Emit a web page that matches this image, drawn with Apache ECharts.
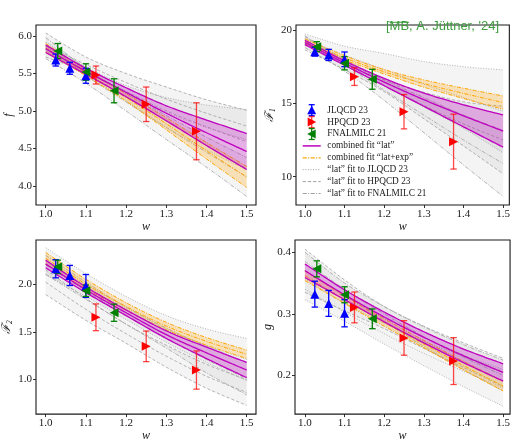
<!DOCTYPE html>
<html><head><meta charset="utf-8">
<script src="https://cdn.jsdelivr.net/npm/echarts@6/dist/echarts.min.js"></script>
<style>html,body{margin:0;padding:0;background:#fff}#c{width:513px;height:443px}</style>
</head><body><div id="c"></div>
<script>
// ---------- data ----------
const wGrid = [1.0, 1.1, 1.2, 1.3, 1.4, 1.5];
const wJLQCD = [1.025, 1.06, 1.10];
const wHPQCD = [1.125, 1.25, 1.375];
const wFNAL = [1.03, 1.10, 1.17];

// f
const f_JLQCD = [5.68, 5.57, 5.47], f_JLQCD_err = [0.08, 0.08, 0.10];
const f_HPQCD = [5.48, 5.09, 4.73], f_HPQCD_err = [0.12, 0.23, 0.38];
const f_FNAL = [5.80, 5.52, 5.27], f_FNAL_err = [0.10, 0.11, 0.16];
const f_lat_c = [5.83, 5.53, 5.25, 4.97, 4.71, 4.46], f_lat_h = [0.05, 0.04, 0.06, 0.10, 0.17, 0.24];
const f_latexp_c = [5.84, 5.51, 5.18, 4.83, 4.47, 4.12], f_latexp_h = [0.06, 0.04, 0.05, 0.08, 0.11, 0.14];
const f_fitJL_c = [5.86, 5.54, 5.24, 4.98, 4.78, 4.62], f_fitJL_h = [0.06, 0.05, 0.10, 0.20, 0.30, 0.40];
const f_fitHP_c = [5.88, 5.62, 5.38, 5.16, 4.97, 4.80], f_fitHP_h = [0.16, 0.10, 0.12, 0.16, 0.18, 0.21];
const f_fitFN_c = [5.84, 5.47, 5.12, 4.78, 4.45, 4.12], f_fitFN_h = [0.14, 0.10, 0.12, 0.16, 0.20, 0.26];

// F1
const F1_JLQCD = [18.52, 18.30, 18.0], F1_JLQCD_err = [0.3, 0.38, 0.5];
const F1_HPQCD = [16.82, 14.43, 12.39], F1_HPQCD_err = [0.6, 1.17, 1.87];
const F1_FNAL = [18.86, 17.73, 16.64], F1_FNAL_err = [0.34, 0.45, 0.68];
const F1_lat_c = [19.15, 17.75, 16.45, 15.25, 14.15, 13.11], F1_lat_h = [0.15, 0.15, 0.25, 0.45, 0.75, 1.10];
const F1_latexp_c = [19.2, 18.1, 17.15, 16.35, 15.68, 15.05], F1_latexp_h = [0.2, 0.15, 0.15, 0.25, 0.35, 0.45];
const F1_fitJL_c = [19.38, 18.3, 17.3, 16.3, 15.4, 14.45], F1_fitJL_h = [0.35, 0.6, 1.1, 1.55, 2.1, 2.83];
const F1_fitHP_c = [19.1, 17.6, 16.2, 14.85, 13.6, 12.5], F1_fitHP_h = [0.45, 0.3, 0.4, 0.9, 1.5, 2.3];
const F1_fitFN_c = [19.2, 17.6, 15.9, 14.2, 12.5, 10.9], F1_fitFN_h = [0.4, 0.4, 0.7, 1.2, 1.7, 2.25];

// F2
const F2_JLQCD = [2.16, 2.09, 1.98], F2_JLQCD_err = [0.095, 0.105, 0.12];
const F2_HPQCD = [1.652, 1.348, 1.10], F2_HPQCD_err = [0.14, 0.16, 0.2];
const F2_FNAL = [2.18, 1.93, 1.70], F2_FNAL_err = [0.07, 0.06, 0.09];
const F2_lat_c = [2.21, 1.94, 1.70, 1.47, 1.28, 1.10], F2_lat_h = [0.04, 0.03, 0.03, 0.04, 0.06, 0.08];
const F2_latexp_c = [2.27, 2.00, 1.765, 1.56, 1.40, 1.265], F2_latexp_h = [0.06, 0.05, 0.04, 0.04, 0.04, 0.045];
const F2_fitJL_c = [2.24, 1.99, 1.75, 1.53, 1.355, 1.21], F2_fitJL_h = [0.14, 0.12, 0.12, 0.14, 0.175, 0.22];
const F2_fitHP_c = [2.02, 1.735, 1.48, 1.245, 1.035, 0.865], F2_fitHP_h = [0.13, 0.115, 0.10, 0.115, 0.125, 0.135];
const F2_fitFN_c = [2.20, 1.93, 1.67, 1.435, 1.21, 1.01], F2_fitFN_h = [0.10, 0.09, 0.09, 0.105, 0.14, 0.17];

// g
const g_JLQCD = [0.332, 0.317, 0.301], g_JLQCD_err = [0.021, 0.021, 0.022];
const g_HPQCD = [0.3105, 0.261, 0.2235], g_HPQCD_err = [0.025, 0.028, 0.038];
const g_FNAL = [0.373, 0.331, 0.292], g_FNAL_err = [0.013, 0.013, 0.016];
const g_lat_c = [0.370, 0.331, 0.295, 0.262, 0.232, 0.205], g_lat_h = [0.011, 0.008, 0.008, 0.009, 0.011, 0.014];
const g_latexp_c = [0.362, 0.323, 0.286, 0.251, 0.216, 0.183], g_latexp_h = [0.008, 0.006, 0.006, 0.006, 0.007, 0.008];
const g_fitJL_c = [0.340, 0.303, 0.268, 0.236, 0.207, 0.180], g_fitJL_h = [0.017, 0.015, 0.017, 0.020, 0.025, 0.030];
const g_fitHP_c = [0.370, 0.330, 0.294, 0.262, 0.233, 0.205], g_fitHP_h = [0.035, 0.025, 0.018, 0.018, 0.020, 0.023];
const g_fitFN_c = [0.385, 0.340, 0.300, 0.263, 0.230, 0.200], g_fitFN_h = [0.015, 0.010, 0.012, 0.016, 0.020, 0.025];

// tick labels
const xTicks = [1.0, 1.1, 1.2, 1.3, 1.4, 1.5];
const yTicks_f = [4.0, 4.5, 5.0, 5.5, 6.0];
const yTicks_F1 = [10, 15, 20];
const yTicks_F2 = [1.0, 1.5, 2.0];
const yTicks_g = [0.2, 0.3, 0.4];

const legendLabels = ['JLQCD 23', 'HPQCD 23', 'FNALMILC 21', 'combined fit \u201Clat\u201D',
  'combined fit \u201Clat+exp\u201D', '\u201Clat\u201D fit to JLQCD 23', '\u201Clat\u201D fit to HPQCD 23',
  '\u201Clat\u201D fit to FNALMILC 21'];

// ---------- styling ----------
const SERIF = '"Liberation Serif", "DejaVu Serif", serif';
const INK = '#1a1a1a';
const DOT = [1, 1.6], DASH = [3.2, 2], DASHDOT = [4, 1.5, 1, 1.5];
const GFILL = 'rgba(128,128,128,0.09)';
const S_JL = {color: '#a0a0a0', width: 0.8, dash: DOT, fill: GFILL};
const S_HP = {color: '#a0a0a0', width: 0.8, dash: DASH, fill: GFILL};
const S_FN = {color: '#a0a0a0', width: 0.8, dash: DASHDOT, fill: GFILL};
const S_EXP = {color: '#ffa500', width: 1.0, dash: DASHDOT, fill: 'rgba(255,165,0,0.25)'};
const S_LAT = {color: '#bf00bf', width: 1.3, dash: null, fill: 'rgba(191,0,191,0.28)'};
const C_JL = '#0000ff', C_HP = '#ff0000', C_FN = '#008000';

const panels = [
  {grid: {left: 36, top: 25, width: 220, height: 180}, x: [0.9759, 1.5231], y: [3.747, 6.147], yt: yTicks_f, dec: 1,
   name: 'f', gap: 20,
   pts: [[wJLQCD, f_JLQCD, f_JLQCD_err], [wHPQCD, f_HPQCD, f_HPQCD_err], [wFNAL, f_FNAL, f_FNAL_err]],
   bands: [[f_fitJL_c, f_fitJL_h], [f_fitHP_c, f_fitHP_h], [f_fitFN_c, f_fitFN_h], [f_latexp_c, f_latexp_h], [f_lat_c, f_lat_h]]},
  {grid: {left: 296, top: 25, width: 216, height: 180}, x: [0.9776, 1.5157], y: [8.07, 20.34], yt: yTicks_F1, dec: 0,
   name: '{a|\u2131}{b|1}', gap: 8,
   pts: [[wJLQCD, F1_JLQCD, F1_JLQCD_err], [wHPQCD, F1_HPQCD, F1_HPQCD_err], [wFNAL, F1_FNAL, F1_FNAL_err]],
   bands: [[F1_fitJL_c, F1_fitJL_h], [F1_fitHP_c, F1_fitHP_h], [F1_fitFN_c, F1_fitFN_h], [F1_latexp_c, F1_latexp_h], [F1_lat_c, F1_lat_h]]},
  {grid: {left: 36, top: 240, width: 220, height: 182}, x: [0.9759, 1.5231], y: [0.639, 2.461], yt: yTicks_F2, dec: 1,
   name: '{a|\u2131}{b|2}', gap: 18,
   pts: [[wJLQCD, F2_JLQCD, F2_JLQCD_err], [wHPQCD, F2_HPQCD, F2_HPQCD_err], [wFNAL, F2_FNAL, F2_FNAL_err]],
   bands: [[F2_fitJL_c, F2_fitJL_h], [F2_fitHP_c, F2_fitHP_h], [F2_fitFN_c, F2_fitFN_h], [F2_latexp_c, F2_latexp_h], [F2_lat_c, F2_lat_h]]},
  {grid: {left: 295, top: 240, width: 217, height: 181}, x: [0.975, 1.5175], y: [0.1375, 0.4198], yt: yTicks_g, dec: 1,
   name: 'g', gap: 16,
   pts: [[wJLQCD, g_JLQCD, g_JLQCD_err], [wHPQCD, g_HPQCD, g_HPQCD_err], [wFNAL, g_FNAL, g_FNAL_err]],
   bands: [[g_fitJL_c, g_fitJL_h], [g_fitHP_c, g_fitHP_h], [g_fitFN_c, g_fitFN_h], [g_latexp_c, g_latexp_h], [g_lat_c, g_lat_h]]}
];
const bandStyles = [S_JL, S_HP, S_FN, S_EXP, S_LAT];
const ptStyles = [
  {color: C_JL, bar: C_JL, sym: 'triangle', rot: 0},
  {color: C_HP, bar: 'rgba(255,0,0,0.72)', sym: 'triangle', rot: -90},
  {color: C_FN, bar: C_FN, sym: 'triangle', rot: 90}
];

// ---------- build ----------
const grids = [], xAxes = [], yAxes = [], series = [];

// Catmull-Rom resampling of pixel points (rendering smoothness only)
function spline(P) {
  const out = [], n = P.length, K = 16;
  for (let i = 0; i < n - 1; i++) {
    const p0 = P[Math.max(i - 1, 0)], p1 = P[i], p2 = P[i + 1], p3 = P[Math.min(i + 2, n - 1)];
    for (let k = 0; k < K; k++) {
      const t = k / K, t2 = t * t, t3 = t2 * t;
      const f = j => 0.5 * (2 * p1[j] + (-p0[j] + p2[j]) * t + (2 * p0[j] - 5 * p1[j] + 4 * p2[j] - p3[j]) * t2 +
        (-p0[j] + 3 * p1[j] - 3 * p2[j] + p3[j]) * t3);
      out.push([f(0), f(1)]);
    }
  }
  out.push(P[n - 1]);
  return out;
}

function bandSeries(gi, c, h, st) {
  series.push({
    type: 'custom', xAxisIndex: gi, yAxisIndex: gi, silent: true,
    data: wGrid.map((w, i) => [w, c[i] - h[i], c[i], c[i] + h[i]]),
    encode: {x: 0, y: [1, 2, 3]},
    renderItem: function (params, api) {
      if (params.dataIndexInside !== 0) return null;
      const n = params.dataInsideLength, lo = [], mid = [], up = [];
      for (let i = 0; i < n; i++) {
        const x = api.value(0, i);
        lo.push(api.coord([x, api.value(1, i)]));
        mid.push(api.coord([x, api.value(2, i)]));
        up.push(api.coord([x, api.value(3, i)]));
      }
      const sl = spline(lo), sm = spline(mid), su = spline(up);
      const lsty = {stroke: st.color, lineWidth: st.width, fill: null, lineDash: st.dash};
      return {type: 'group', children: [
        {type: 'polygon', shape: {points: su.concat(sl.slice().reverse())}, style: {fill: st.fill, stroke: null}},
        {type: 'polyline', shape: {points: sl}, style: lsty},
        {type: 'polyline', shape: {points: su}, style: lsty},
        {type: 'polyline', shape: {points: sm}, style: lsty}
      ]};
    }
  });
}
function pointSeries(gi, w, v, e, st) {
  series.push({
    type: 'custom', xAxisIndex: gi, yAxisIndex: gi, silent: true,
    data: w.map((x, i) => [x, v[i], e[i]]),
    encode: {x: 0, y: 1},
    renderItem: function (params, api) {
      const x = api.value(0), y = api.value(1), er = api.value(2);
      const t = api.coord([x, y + er]), b = api.coord([x, y - er]);
      const cw = 3.2, sty = {stroke: st.bar, lineWidth: 1.3};
      return {type: 'group', children: [
        {type: 'line', shape: {x1: t[0], y1: t[1], x2: b[0], y2: b[1]}, style: sty},
        {type: 'line', shape: {x1: t[0] - cw, y1: t[1], x2: t[0] + cw, y2: t[1]}, style: sty},
        {type: 'line', shape: {x1: b[0] - cw, y1: b[1], x2: b[0] + cw, y2: b[1]}, style: sty}
      ]};
    }
  });
  series.push({
    type: 'scatter', xAxisIndex: gi, yAxisIndex: gi, silent: true,
    data: w.map((x, i) => [x, v[i]]), symbol: st.sym, symbolSize: 9, symbolRotate: st.rot,
    itemStyle: {color: st.color, opacity: 1}
  });
}

panels.forEach((p, gi) => {
  grids.push(Object.assign({show: true, borderColor: INK, borderWidth: 1.1, backgroundColor: 'transparent'}, p.grid));
  xAxes.push({
    type: 'value', gridIndex: gi, min: p.x[0], max: p.x[1],
    axisLine: {show: false}, splitLine: {show: false},
    axisTick: {show: true, length: 3, lineStyle: {color: INK, width: 0.9}, customValues: xTicks},
    axisLabel: {customValues: xTicks, formatter: v => v.toFixed(1), fontFamily: SERIF, fontSize: 11, color: INK, margin: 4},
    name: 'w', nameLocation: 'middle', nameGap: 13,
    nameTextStyle: {fontFamily: SERIF, fontStyle: 'italic', fontSize: 12, color: INK}
  });
  yAxes.push({
    type: 'value', gridIndex: gi, min: p.y[0], max: p.y[1],
    axisLine: {show: false}, splitLine: {show: false},
    axisTick: {show: true, length: 3, lineStyle: {color: INK, width: 0.9}, customValues: p.yt},
    axisLabel: {customValues: p.yt, formatter: v => v.toFixed(p.dec), fontFamily: SERIF, fontSize: 11, color: INK, margin: 4},
    name: p.name, nameLocation: 'middle', nameGap: p.gap,
    nameTextStyle: {fontFamily: SERIF, fontStyle: 'italic', fontSize: 12, color: INK,
      rich: {a: {fontFamily: '"DejaVu Serif", serif', fontSize: 12, color: INK, lineHeight: 14},
             b: {fontFamily: SERIF, fontSize: 7.5, color: INK, verticalAlign: 'bottom', lineHeight: 14}}}
  });
  p.bands.forEach((b, k) => bandSeries(gi, b[0], b[1], bandStyles[k]));
  p.pts.forEach((d, k) => pointSeries(gi, d[0], d[1], d[2], ptStyles[k]));
});

// ---------- legend (panel 2) ----------
const graphics = [];
const LX0 = 302.7, LX1 = 320.7, LXT = 327.3, LY0 = 110.2, LDY = 11.9, MX = 311.7;
function legMarker(cy, kind, color, bar) {
  const sty = {stroke: bar, lineWidth: 1.3};
  graphics.push({type: 'line', shape: {x1: MX, y1: cy - 5.5, x2: MX, y2: cy + 5.5}, style: sty, z: 10});
  graphics.push({type: 'line', shape: {x1: MX - 3, y1: cy - 5.5, x2: MX + 3, y2: cy - 5.5}, style: sty, z: 10});
  graphics.push({type: 'line', shape: {x1: MX - 3, y1: cy + 5.5, x2: MX + 3, y2: cy + 5.5}, style: sty, z: 10});
  let pts;
  if (kind === 'up') pts = [[MX, cy - 4.5], [MX - 4.5, cy + 4], [MX + 4.5, cy + 4]];
  else if (kind === 'right') pts = [[MX - 4, cy - 4.5], [MX + 4.5, cy], [MX - 4, cy + 4.5]];
  else pts = [[MX + 4, cy - 4.5], [MX - 4.5, cy], [MX + 4, cy + 4.5]];
  graphics.push({type: 'polygon', shape: {points: pts}, style: {fill: color}, z: 11});
}
function legLine(cy, st) {
  graphics.push({type: 'line', shape: {x1: LX0, y1: cy, x2: LX1, y2: cy},
    style: {stroke: st.color, lineWidth: st.width + 0.2, lineDash: st.dash}, z: 10});
}
legendLabels.forEach((t, i) => {
  const cy = LY0 + i * LDY;
  graphics.push({type: 'text', x: LXT, y: cy, z: 10,
    style: {text: t, fontFamily: SERIF, fontSize: 9.3, fill: INK, align: 'left', verticalAlign: 'middle'}});
});
legMarker(LY0, 'up', C_JL, C_JL);
legMarker(LY0 + LDY, 'right', C_HP, 'rgba(255,0,0,0.72)');
legMarker(LY0 + 2 * LDY, 'left', C_FN, C_FN);
legLine(LY0 + 3 * LDY, S_LAT);
legLine(LY0 + 4 * LDY, S_EXP);
legLine(LY0 + 5 * LDY, S_JL);
legLine(LY0 + 6 * LDY, S_HP);
legLine(LY0 + 7 * LDY, S_FN);

// ---------- title ----------
const TFONT = '13px "Liberation Sans", Arial, sans-serif';
const titleText = "[MB, A. J\u00fcttner, '24]";
const cv = document.createElement('canvas').getContext('2d');
cv.font = TFONT;
const tw = cv.measureText(titleText).width;
const tx = 499 - tw;
const u0 = tx + cv.measureText('[').width, u1 = tx + cv.measureText('[MB').width;
const TGREEN = '#3d9c3d';
graphics.push({type: 'text', x: tx, y: 20, style: {text: titleText, font: TFONT, fill: TGREEN, align: 'left', verticalAlign: 'alphabetic'}});
graphics.push({type: 'line', shape: {x1: u0, y1: 22.3, x2: u1, y2: 22.3}, style: {stroke: TGREEN, lineWidth: 1}});

const chart = echarts.init(document.getElementById('c'), null, {renderer: 'canvas'});
chart.setOption({
  animation: false, backgroundColor: '#fff',
  grid: grids, xAxis: xAxes, yAxis: yAxes, series: series, graphic: graphics
});
</script></body></html>
